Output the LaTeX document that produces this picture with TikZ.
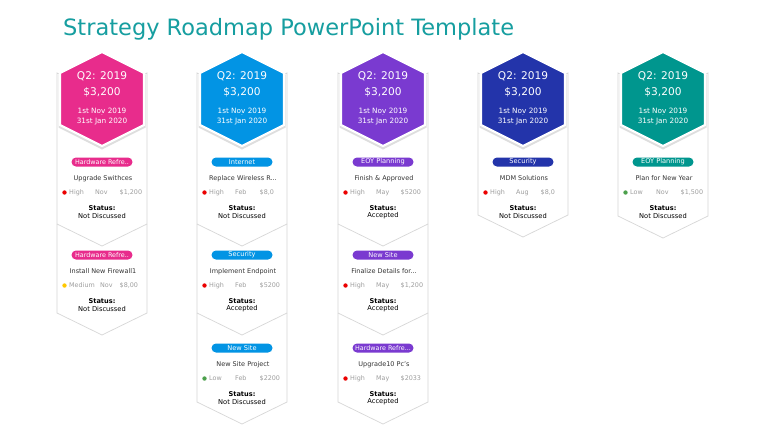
\documentclass[tikz,border=0pt]{standalone}
\usepackage{fontspec}
\setmainfont{DejaVu Sans}
\definecolor{ttlteal}{RGB}{22,158,160}
\definecolor{cpink}{RGB}{232,44,140}
\definecolor{cblue}{RGB}{2,148,228}
\definecolor{cpurple}{RGB}{122,58,208}
\definecolor{cnavy}{RGB}{35,52,170}
\definecolor{cteal}{RGB}{0,150,142}
\definecolor{dred}{RGB}{235,0,0}
\definecolor{dgreen}{RGB}{76,160,76}
\definecolor{dyellow}{RGB}{255,200,0}
\definecolor{cardline}{RGB}{215,215,215}
\tikzset{
 card/.style={fill=white, draw=cardline, line width=0.7pt, line join=miter},
 divline/.style={draw=cardline, line width=0.7pt},
 pill/.style={rectangle, rounded corners=4.5pt, minimum width=61pt, minimum height=9pt, inner sep=0pt, text=white, font=\fontsize{6.6}{6.6}\selectfont},
 hdr/.style={text=white, font=\fontsize{10.6}{12}\selectfont, inner sep=0pt},
 dt/.style={text=white, font=\fontsize{7.3}{8}\selectfont, inner sep=0pt},
 ttl/.style={text=black!80, font=\fontsize{6.5}{7}\selectfont, inner sep=0pt},
 rowt/.style={text=black!38, font=\fontsize{6.4}{7}\selectfont, inner sep=0pt, anchor=west},
 stl/.style={text=black, font=\bfseries\fontsize{6.6}{7}\selectfont, inner sep=0pt},
 stv/.style={text=black, font=\fontsize{6.7}{7}\selectfont, inner sep=0pt},
 dotn/.style={circle, inner sep=0pt, minimum size=4.4pt},
}
\newcommand\hwtext[1]{{\fontsize{6.4}{6.4}\selectfont #1}}
\newcommand\cardc[2]{% cx, ybottom corners
 \path[card] (#1-45,73) -- (#1,95) -- (#1+45,73) -- (#1+45,#2) -- (#1,#2+22) -- (#1-45,#2) -- cycle;
}
\newcommand\divl[2]{% cx, y corners
 \draw[divline] (#1-45,#2) -- (#1,#2+22) -- (#1+45,#2);
}
\newcommand\hexa[3]{% id, cx, color
 \fill[black!13] (#2,54) -- (#2+43.5,75) -- (#2+43.5,127.5) -- (#2,149.5) -- (#2-43.5,127.5) -- (#2-43.5,75) -- cycle;
 \path[fill=#3, draw=white, line width=2.2pt, line join=miter] (#2,52) -- (#2+42,73) -- (#2+42,125) -- (#2,146) -- (#2-42,125) -- (#2-42,73) -- cycle;
 \node[hdr] (q#1) at (#2,76.5) {Q2: 2019};
 \node[hdr] (a#1) at (#2,92) {\$3,200};
 \node[dt] (f#1) at (#2,110.5) {1st Nov 2019};
 \node[dt, font=\fontsize{4.5}{4.5}\selectfont] (h#1) at (#2,116.2) {-};
 \node[dt] (j#1) at (#2,122) {31st Jan 2020};
}
\newcommand\secA[6]{% id, cx, y, color, pill, title
 \node[pill, fill=#4] (p#1) at (#2,#3) {#5};
 \node[ttl] (t#1) at (#2+1,#3+16.5) {#6};
}
\newcommand\secB[8]{% id, cx, y, dotcolor, prio, month, monthdx, price
 \node[dotn, fill=#4] (d#1) at (#2-37.5,#3+30.5) {};
 \node[rowt] (r#1) at (#2-33,#3+30.5) {#5};
 \node[rowt] (m#1) at (#2+#7,#3+30.5) {#6};
 \node[rowt] (c#1) at (#2+17.5,#3+30.5) {#8};
}
\newcommand\secC[4]{% id, cx, y, status
 \node[stl] (s#1) at (#2,#3+46.5) {Status:};
 \node[stv] (v#1) at (#2,#3+54) {#4};
}
\begin{document}
\begin{tikzpicture}[x=1pt,y=-1pt]
\useasboundingbox[fill=white] (0,0) rectangle (768,432);
\node[anchor=base west, inner sep=0pt, text=ttlteal, font=\fontsize{22.5}{27}\selectfont] (title) at (63,35) {Strategy Roadmap PowerPoint Template};

% cards
\cardc{102}{313} \divl{102}{224}
\cardc{242}{402} \divl{242}{224} \divl{242}{313}
\cardc{383}{402} \divl{383}{224} \divl{383}{313}
\cardc{523}{215}
\cardc{663}{216}

% hexagons
\hexa{1}{102}{cpink}
\hexa{2}{242}{cblue}
\hexa{3}{383}{cpurple}
\hexa{4}{523}{cnavy}
\hexa{5}{663}{cteal}

% column 1
\secA{11}{102}{162}{cpink}{\hwtext{Hardware Refre..}}{Upgrade Swithces}
\secB{11}{102}{162}{dred}{High}{Nov}{-7}{\$1,200}
\secC{11}{102}{162}{Not Discussed}
\secA{12}{102}{255}{cpink}{\hwtext{Hardware Refre..}}{Install New Firewall1}
\secB{12}{102}{255}{dyellow}{Medium}{Nov}{-2}{\$8,00}
\secC{12}{102}{255}{Not Discussed}

% column 2
\secA{21}{242}{162}{cblue}{Internet}{Replace Wireless R...}
\secB{21}{242}{162}{dred}{High}{Feb}{-7}{\$8,0}
\secC{21}{242}{162}{Not Discussed}
\secA{22}{242}{255}{cblue}{Security}{Implement Endpoint}
\secB{22}{242}{255}{dred}{High}{Feb}{-7}{\$5200}
\secC{22}{242}{255}{Accepted}
\secA{23}{242}{348}{cblue}{New Site}{New Site Project}
\secB{23}{242}{348}{dgreen}{Low}{Feb}{-7}{\$2200}
\secC{23}{242}{348}{Not Discussed}

% column 3
\secA{31}{383}{162}{cpurple}{EOY Planning}{Finish \& Approved}
\secB{31}{383}{162}{dred}{High}{May}{-7}{\$5200}
\secC{31}{383}{162}{Accepted}
\secA{32}{383}{255}{cpurple}{New Site}{Finalize Details for...}
\secB{32}{383}{255}{dred}{High}{May}{-7}{\$1,200}
\secC{32}{383}{255}{Accepted}
\secA{33}{383}{348}{cpurple}{\hwtext{Hardware Refre...}}{Upgrade10 Pc's}
\secB{33}{383}{348}{dred}{High}{May}{-7}{\$2033}
\secC{33}{383}{348}{Accepted}

% column 4
\secA{41}{523}{162}{cnavy}{Security}{MDM Solutions}
\secB{41}{523}{162}{dred}{High}{Aug}{-7}{\$8,0}
\secC{41}{523}{162}{Not Discussed}

% column 5
\secA{51}{663}{162}{cteal}{EOY Planning}{Plan for New Year}
\secB{51}{663}{162}{dgreen}{Low}{Nov}{-7}{\$1,500}
\secC{51}{663}{162}{Not Discussed}
\end{tikzpicture}
\end{document}
